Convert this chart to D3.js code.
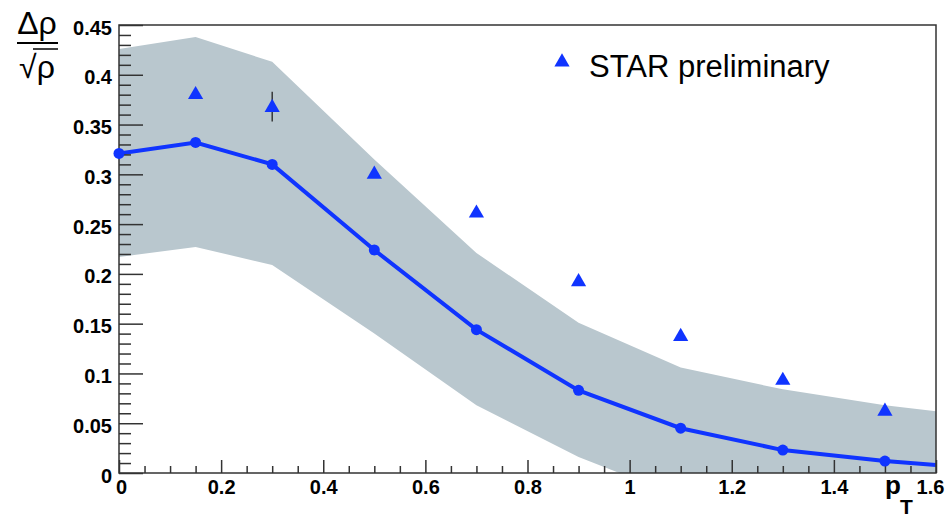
<!DOCTYPE html>
<html>
<head>
<meta charset="utf-8">
<script src="https://cdn.jsdelivr.net/npm/d3@7"></script>
<style>
body{margin:0;background:#fff;}
svg{display:block;font-family:"Liberation Sans",Arial,sans-serif;}
</style>
</head>
<body>
<div class="canvas"></div>
<script>
// model band + central curve
const bandX=[0,0.15,0.3,0.5,0.7,0.9,1.1,1.3,1.5,1.6];
const bandCenter=[0.321,0.332,0.310,0.224,0.144,0.083,0.045,0.023,0.012,0.008];
const bandUpper=[0.426,0.438,0.413,0.315,0.221,0.151,0.106,0.084,0.068,0.062];
const bandLower=[0.217,0.227,0.209,0.140,0.068,0.016,-0.024,-0.040,-0.050,-0.055];

// STAR preliminary points
const starX=[0.15,0.3,0.5,0.7,0.9,1.1,1.3,1.5];
const starY=[0.381,0.368,0.301,0.262,0.193,0.138,0.094,0.063];
const starErr=[0.004,0.015,0.004,0.004,0.004,0.004,0.004,0.004];

const xMajor=[0,0.2,0.4,0.6,0.8,1,1.2,1.4,1.6];
const yMajor=[0,0.05,0.1,0.15,0.2,0.25,0.3,0.35,0.4,0.45];

const W=952,H=517;
const margin={left:119,top:25,right:16,bottom:44};
const graphWidth=W-margin.left-margin.right;
const graphHeight=H-margin.top-margin.bottom;

const blue='#1034ff';
const bandCol='#b9c7ce';
const axisCol='#333';

const svg=d3.select('.canvas').append('svg')
.attr('width',W)
.attr('height',H);

const graph=svg.append('g')
.attr('transform',`translate(${margin.left},${margin.top})`);

const x=d3.scaleLinear().domain([0,1.6]).range([0,graphWidth]);
const y=d3.scaleLinear().domain([0,0.45]).range([graphHeight,0]);

graph.append('clipPath').attr('id','clip')
.append('rect').attr('width',graphWidth).attr('height',graphHeight);

const plot=graph.append('g').attr('clip-path','url(#clip)');

const band=bandX.map((d,i)=>({x:d,lo:bandLower[i],hi:bandUpper[i],c:bandCenter[i]}));

plot.append('path')
.datum(band)
.attr('fill',bandCol)
.attr('d',d3.area().x(d=>x(d.x)).y0(d=>y(d.lo)).y1(d=>y(d.hi)));

plot.append('path')
.datum(band)
.attr('fill','none')
.attr('stroke',blue)
.attr('stroke-width',4)
.attr('d',d3.line().x(d=>x(d.x)).y(d=>y(d.c)));

// axes
const fmt=d=>String(+d.toFixed(2));

const xMinor=d3.range(0,1.6001,0.05).map(d=>+d.toFixed(2)).filter(d=>!xMajor.some(m=>Math.abs(m-d)<1e-6));
const yMinor=d3.range(0,0.4501,0.01).map(d=>+d.toFixed(2)).filter(d=>!yMajor.some(m=>Math.abs(m-d)<1e-6));

const xMinorG=graph.append('g').attr('transform',`translate(0,${graphHeight})`)
.call(d3.axisBottom(x).tickValues(xMinor).tickSize(-7).tickFormat(''));
const xAxisGroup=graph.append('g').attr('transform',`translate(0,${graphHeight})`)
.call(d3.axisBottom(x).tickValues(xMajor).tickSize(-13).tickPadding(7).tickFormat(fmt));

const yMinorG=graph.append('g')
.call(d3.axisLeft(y).tickValues(yMinor).tickSize(-12).tickFormat(''));
const yAxisGroup=graph.append('g')
.call(d3.axisLeft(y).tickValues(yMajor).tickSize(-24).tickPadding(7).tickFormat(fmt));

[xMinorG,xAxisGroup,yMinorG,yAxisGroup].forEach(g=>{
  g.select('.domain').remove();
  g.selectAll('line').attr('stroke',axisCol).attr('stroke-width',1.5);
  g.selectAll('text')
  .attr('fill','#000')
  .style('font-size','20px')
  .style('font-weight','bold')
  .style('font-family','"Liberation Sans",Arial,sans-serif');
});
yAxisGroup.selectAll('text').attr('dy','0.45em');
xAxisGroup.selectAll('text').filter(d=>d===0).attr('dx','2');
xAxisGroup.selectAll('text').filter(d=>d===1.6).attr('dx','-6');

// frame
graph.append('rect')
.attr('width',graphWidth)
.attr('height',graphHeight)
.attr('fill','none')
.attr('stroke',axisCol)
.attr('stroke-width',1.5);

// markers on top of the frame
graph.selectAll('circle.model')
.data(band.slice(0,-1))
.enter().append('circle')
.attr('class','model')
.attr('cx',d=>x(d.x))
.attr('cy',d=>y(d.c))
.attr('r',5.5)
.attr('fill',blue);

const star=starX.map((d,i)=>({x:d,y:starY[i],e:starErr[i]}));

graph.selectAll('line.err')
.data(star)
.enter().append('line')
.attr('class','err')
.attr('x1',d=>x(d.x)).attr('x2',d=>x(d.x))
.attr('y1',d=>y(d.y-d.e)).attr('y2',d=>y(d.y+d.e))
.attr('stroke','#222')
.attr('stroke-width',1.3);

const tri=d3.symbol().type(d3.symbolTriangle).size(100);

graph.selectAll('path.star')
.data(star)
.enter().append('path')
.attr('class','star')
.attr('transform',d=>`translate(${x(d.x)},${y(d.y)+1})`)
.attr('d',tri)
.attr('fill',blue);

// x title p_T
const xt=svg.append('text')
.attr('x',885).attr('y',494)
.style('font-weight','bold')
.style('font-size','26px');
xt.append('tspan').text('p');
xt.append('tspan').attr('x',900).attr('y',514).style('font-size','21px').text('T');

// y title Δρ / √ρ
svg.append('text')
.attr('x',37).attr('y',34)
.attr('text-anchor','middle')
.style('font-size','32px')
.text('Δρ');
svg.append('line')
.attr('x1',17).attr('x2',58)
.attr('y1',43).attr('y2',43)
.attr('stroke','#000').attr('stroke-width',2);
svg.append('text')
.attr('x',37).attr('y',78)
.attr('text-anchor','middle')
.style('font-size','32px')
.text('√ρ');
svg.append('line')
.attr('x1',33).attr('x2',58)
.attr('y1',49).attr('y2',49)
.attr('stroke','#000').attr('stroke-width',1.5);

// legend
const leg=svg.append('g');
leg.append('path')
.attr('transform','translate(562,62)')
.attr('d',tri)
.attr('fill',blue);
leg.append('text')
.attr('x',589).attr('y',77)
.style('font-size','31px')
.text('STAR preliminary');
</script>
</body>
</html>
